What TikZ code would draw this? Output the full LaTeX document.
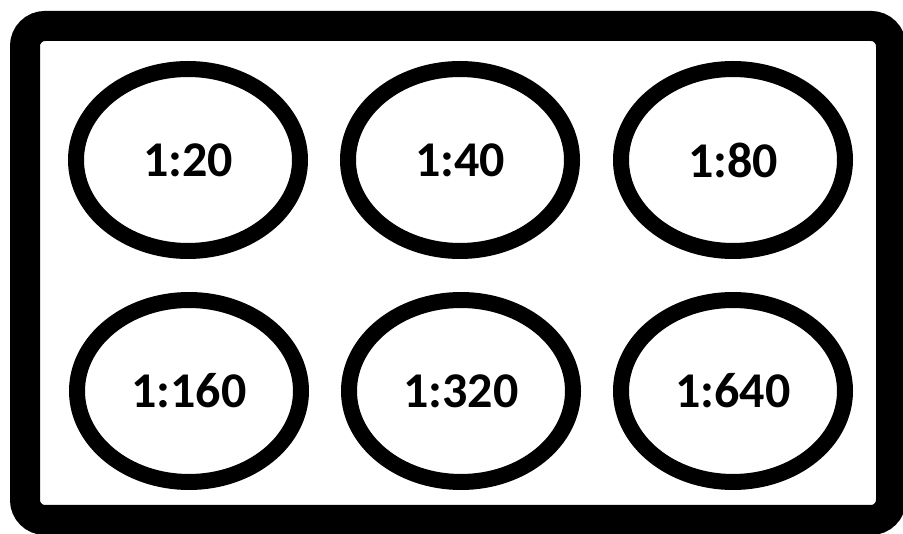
\documentclass[tikz,border=0pt]{standalone}
\usepackage{fontspec}
\setmainfont{Carlito}
\usepackage{tikz}
\usetikzlibrary{shapes.geometric}

\begin{document}
\begin{tikzpicture}[x=1pt, y=-1pt,
  well/.style={draw, ellipse, line width=16pt, minimum width=224pt, minimum height=182pt, inner sep=0pt, font=\fontsize{50}{50}\selectfont\bfseries}]
\useasboundingbox[fill=white] (0,0) rectangle (903,534);
% plate outline
\draw[line width=30pt, rounded corners=20pt] (25,26) rectangle (891,520);
% top row
\node[well] (w20) at (188,160) {1:20};
\node[well] (w40) at (460,160) {1:40};
\node[well] (w80) at (733,160) {1:80};
% bottom row
\node[well] (w160) at (189,391) {1:160};
\node[well] (w320) at (461,391) {1:320};
\node[well] (w640) at (733,391) {1:640};
\end{tikzpicture}
\end{document}
